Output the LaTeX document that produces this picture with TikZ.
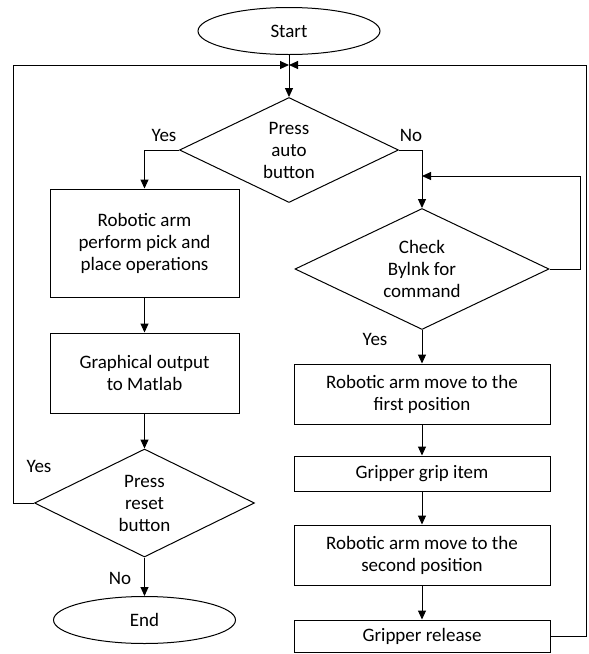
\documentclass[tikz,border=0pt]{standalone}
\usepackage{fontspec}
\setmainfont{Carlito}
\usetikzlibrary{shapes, arrows.meta}
\tikzset{>={Triangle[length=9pt,width=8pt]}}

\begin{document}
\begin{tikzpicture}[x=1pt, y=-1pt, line width=1pt,
  font=\fontsize{19}{22}\selectfont,
  terminal/.style={draw, ellipse, minimum width=182pt, minimum height=47pt, inner sep=0pt},
  process/.style={draw, rectangle, align=center, inner sep=0pt},
  decision/.style={draw, diamond, aspect=2, align=center, inner sep=0pt}]
\useasboundingbox (0,0) rectangle (589,654);

% left column
\node[terminal] (start) at (289,31) {Start};
\node[decision, minimum width=219pt, minimum height=105pt] (auto) at (289,150) {Press\\auto\\button};
\node[process, minimum width=189pt, minimum height=108pt] (pick) at (144.5,243) {Robotic arm\\perform pick and\\place operations};
\node[process, minimum width=189pt, minimum height=80pt] (graph) at (144.5,373) {Graphical output\\to Matlab};
\node[decision, minimum width=220pt, minimum height=108pt] (reset) at (144.5,503) {Press\\reset\\button};
\node[terminal] (end) at (144.5,620) {End};

% right column
\node[decision, minimum width=254pt, minimum height=121pt] (blynk) at (422,269) {Check\\Bylnk for\\command};
\node[process, minimum width=256pt, minimum height=60pt] (first) at (422,394) {Robotic arm move to the\\first position};
\node[process, minimum width=256pt, minimum height=35pt] (grip) at (422,473.5) {Gripper grip item};
\node[process, minimum width=256pt, minimum height=60pt] (second) at (422,555) {Robotic arm move to the\\second position};
\node[process, minimum width=256pt, minimum height=32pt] (release) at (422,636) {Gripper release};

\coordinate (join) at (289,65);
\coordinate (wait) at (422,176);

% labels
\node (yesauto) at (164,135) {Yes};
\node (noauto) at (411,135) {No};
\node (yesblynk) at (375,339) {Yes};
\node (yesreset) at (39,466) {Yes};
\node (noreset) at (120,578) {No};

% arrows
\draw[->] (start) -- (auto);
\draw[->] (auto.west) -| (pick.north);
\draw[->] (auto.east) -| (blynk.north);
\draw[->] (pick) -- (graph);
\draw[->] (graph) -- (reset);
\draw[->] (reset) -- (end);
\draw[->] (reset.west) -- ++(-21,0) |- (join);
\draw[->] (blynk.east) -- ++(31,0) |- (wait);
\draw[->] (blynk) -- (first);
\draw[->] (first) -- (grip);
\draw[->] (grip) -- (second);
\draw[->] (second) -- (release);
\draw[->] (release.east) -- ++(36,0) |- (join);
\end{tikzpicture}
\end{document}
